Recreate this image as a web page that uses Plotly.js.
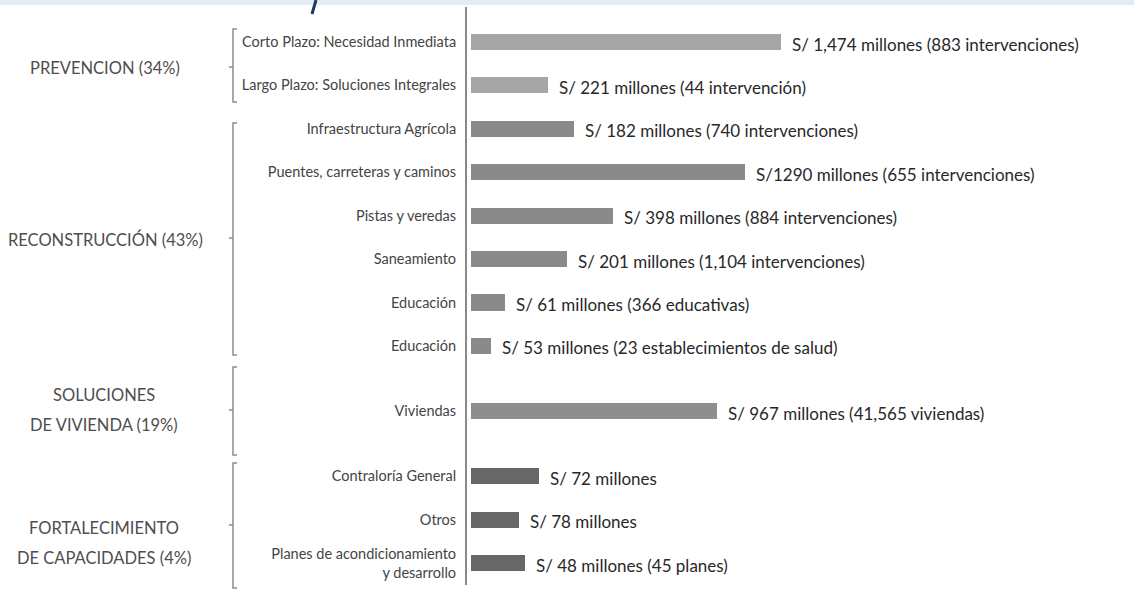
<!DOCTYPE html>
<html>
<head>
<meta charset="utf-8">
<script src="https://cdn.plot.ly/plotly-3.0.1.min.js"></script>
<style>
  html, body { margin: 0; padding: 0; background: #fff; }
  #chart { width: 1134px; height: 604px; }
</style>
</head>
<body>
<div id="chart"></div>
<script>
// ---- data ----
const categories = [
  'Corto Plazo: Necesidad Inmediata',
  'Largo Plazo: Soluciones Integrales',
  'Infraestructura Agrícola',
  'Puentes, carreteras y caminos',
  'Pistas y veredas',
  'Saneamiento',
  'Educación',
  'Educación',
  'Viviendas',
  'Contraloría General',
  'Otros',
  'Planes de acondicionamiento<br>y desarrollo'
];
const groupIndex = [0, 0, 1, 1, 1, 1, 1, 1, 2, 3, 3, 3];
const groupNames = [
  'PREVENCION (34%)',
  'RECONSTRUCCIÓN (43%)',
  'SOLUCIONES|DE VIVIENDA (19%)',
  'FORTALECIMIENTO|DE CAPACIDADES (4%)'
];
// bar lengths as drawn in the infographic (not proportional to amounts)
const barLength = [310, 77, 103, 274, 142, 96, 34, 20, 246, 68, 48, 54];
const amountLabels = [
  'S/ 1,474 millones (883 intervenciones)',
  'S/ 221 millones (44 intervención)',
  'S/ 182 millones (740 intervenciones)',
  'S/1290 millones (655 intervenciones)',
  'S/ 398 millones (884 intervenciones)',
  'S/ 201 millones (1,104 intervenciones)',
  'S/ 61 millones (366 educativas)',
  'S/ 53 millones (23 establecimientos de salud)',
  'S/ 967 millones (41,565 viviendas)',
  'S/ 72 millones',
  'S/ 78 millones',
  'S/ 48 millones (45 planes)'
];

// ---- styling / layout ----
const FONT = "Lato, 'Noto Sans', sans-serif";
const groupColors = ['#a6a6a6', '#8a8a8a', '#8e8e8e', '#676767'];

// extra gap around the single-item housing group
const pos = categories.map((c, i) => i + (groupIndex[i] >= 2 ? 0.5 : 0) + (groupIndex[i] >= 3 ? 0.5 : 0));

const W = 1134, H = 604, ML = 467, MT = 7, MB = 19;
const plotW = W - ML, plotH = H - MT - MB;
const px = x => (x - ML) / plotW;          // pixel x -> paper x
const py = y => (H - MB - y) / plotH;       // pixel y -> paper y

const trace = {
  type: 'bar',
  orientation: 'h',
  x: barLength,
  y: pos,
  width: 0.37,
  marker: { color: groupIndex.map(g => groupColors[g]), line: { width: 0 } },
  hoverinfo: 'skip',
  cliponaxis: false
};

const annotations = [];
// value labels
barLength.forEach((v, i) => {
  annotations.push({
    x: v, y: pos[i], xref: 'x', yref: 'y',
    xanchor: 'left', yanchor: 'middle', xshift: 9, yshift: -2,
    text: amountLabels[i], showarrow: false,
    font: { family: FONT, size: 17, color: '#282828' }
  });
});

// group labels (decorative text positions)
const groupLabelY = [[68], [240], [395, 425], [528, 558]];
const groupLabelX = [105, 105, 104, 104];
groupNames.forEach((g, gi) => {
  g.split('|').forEach((line, li) => {
    annotations.push({
      x: px(groupLabelX[gi]), y: py(groupLabelY[gi][li]), xref: 'paper', yref: 'paper',
      xanchor: 'center', yanchor: 'middle', text: line, showarrow: false,
      font: { family: FONT, size: 16.5, color: '#4e4e4e' }
    });
  });
});

// brackets
const brackets = [[29, 102, 67], [123, 355, 238], [367, 455, 410], [463, 588, 525]];
const bx = 233;
const shapes = brackets.map(([t, b, m]) => ({
  type: 'path', xref: 'paper', yref: 'paper',
  path: `M ${px(bx + 4)},${py(t)} L ${px(bx)},${py(t)} L ${px(bx)},${py(b)} L ${px(bx + 4)},${py(b)} M ${px(bx)},${py(m)} L ${px(bx - 4)},${py(m)}`,
  line: { color: '#8c8c8c', width: 1.5 }
}));
// top strip from the page header
shapes.push({
  type: 'rect', xref: 'paper', yref: 'paper',
  x0: px(0), x1: px(W), y0: py(0), y1: py(5),
  fillcolor: '#e3ebf5', line: { width: 0 }, layer: 'below'
});
shapes.push({
  type: 'path', xref: 'paper', yref: 'paper',
  path: `M ${px(316)},${py(0)} L ${px(312)},${py(14)}`,
  line: { color: '#1f3a5f', width: 3 }
});

const layout = {
  width: W, height: H,
  margin: { l: ML, r: 0, t: MT, b: MB, pad: 0 },
  paper_bgcolor: '#ffffff', plot_bgcolor: 'rgba(0,0,0,0)',
  showlegend: false,
  bargap: 0,
  xaxis: { range: [-4, plotW - 4], visible: false, fixedrange: true },
  yaxis: {
    range: [-0.806 + plotH / 43.42, -0.806],
    tickmode: 'array', tickvals: pos, ticktext: categories,
    ticks: '', ticklabelstandoff: 6,
    showline: true, linecolor: '#8a8a8a', linewidth: 2,
    showgrid: false, zeroline: false, fixedrange: true,
    tickfont: { family: FONT, size: 14.5, color: '#444444' }
  },
  annotations: annotations,
  shapes: shapes
};

Plotly.newPlot('chart', [trace], layout, { displayModeBar: false, staticPlot: true });
</script>
</body>
</html>
